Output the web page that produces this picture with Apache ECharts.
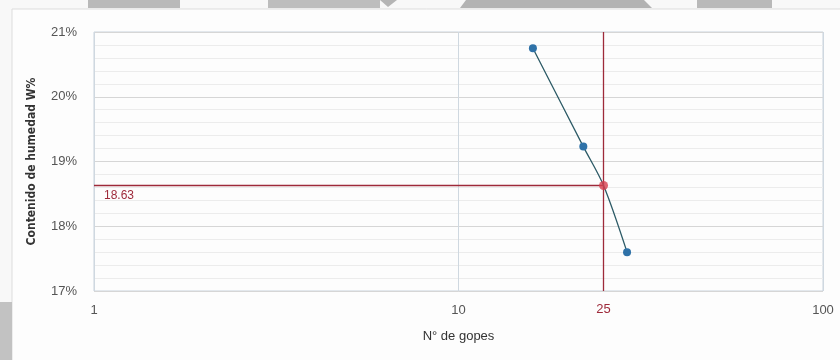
<!DOCTYPE html>
<html>
<head>
<meta charset="utf-8">
<title>Contenido de humedad vs N° de golpes</title>
<script src="https://cdn.jsdelivr.net/npm/echarts@6/dist/echarts.min.js"></script>
<style>
  html, body { margin: 0; padding: 0; background: #f8f8f8; }
  #chart { width: 840px; height: 360px; }
</style>
</head>
<body>
<div id="chart"></div>
<script>
// Ensayo de límite líquido: humedad frente a número de golpes
const golpes = [16, 22, 29];
const humedad = [20.75, 19.23, 17.60];
const golpesRef = 25;
const humedadRef = 18.63;
const xTicks = [1, 10, 100];
const yTicks = [17, 18, 19, 20, 21];

const textFont = "'Liberation Sans', Arial, sans-serif";
const narrowFont = "'Liberation Sans Narrow', 'DejaVu Sans Condensed', 'Liberation Sans', sans-serif";
const refRed = '#9e2a3a';

// curva de fluidez: puntos del ensayo más el punto de 25 golpes (sin marcador), ordenados
const curva = golpes.map((g, i) => ({ value: [g, humedad[i]] }))
  .concat([{ value: [golpesRef, humedadRef], symbol: 'none' }])
  .sort((a, b) => a.value[0] - b.value[0]);

const chart = echarts.init(document.getElementById('chart'));

chart.setOption({
  backgroundColor: '#f8f8f8',
  animation: false,
  graphic: [
    // recuadro del gráfico
    { type: 'rect', shape: { x: 12, y: 9, width: 840, height: 360 },
      style: { fill: '#fdfdfd', stroke: '#dddddd', lineWidth: 1 }, z: -10 },
    // fondo de la página escaneada
    { type: 'rect', shape: { x: 88, y: 0, width: 92, height: 8 }, style: { fill: '#b9b9b9' }, z: -9 },
    { type: 'rect', shape: { x: 268, y: 0, width: 112, height: 8 }, style: { fill: '#bdbdbd' }, z: -9 },
    { type: 'polygon', shape: { points: [[380, 0], [397, 0], [388, 7]] }, style: { fill: '#b5b5b5' }, z: -9 },
    { type: 'polygon', shape: { points: [[466, 0], [644, 0], [652, 8], [460, 8]] }, style: { fill: '#b3b3b3' }, z: -9 },
    { type: 'rect', shape: { x: 697, y: 0, width: 75, height: 8 }, style: { fill: '#b9b9b9' }, z: -9 },
    { type: 'rect', shape: { x: 0, y: 302, width: 12, height: 58 }, style: { fill: '#c2c2c2' }, z: -9 }
  ],
  grid: {
    left: 94, right: 17, top: 32, bottom: 69,
    show: true, borderColor: '#c8d2dc', borderWidth: 1, backgroundColor: 'transparent'
  },
  xAxis: {
    type: 'log',
    logBase: 10,
    min: xTicks[0],
    max: xTicks[xTicks.length - 1],
    name: 'N° de gopes',
    nameLocation: 'middle',
    nameGap: 39,
    nameTextStyle: { fontFamily: textFont, fontSize: 13, color: '#333333' },
    axisLine: { show: false },
    axisTick: { show: false },
    axisLabel: { fontFamily: textFont, fontSize: 13, color: '#555555', margin: 13 },
    splitLine: { show: true, lineStyle: { color: '#cfd8e0', width: 1 } }
  },
  yAxis: {
    type: 'value',
    min: yTicks[0],
    max: yTicks[yTicks.length - 1],
    interval: 1,
    name: 'Contenido de humedad W%',
    nameLocation: 'middle',
    nameRotate: 90,
    nameGap: 56,
    nameTextStyle: { fontFamily: narrowFont, fontSize: 12, fontWeight: 'bold', color: '#333333' },
    axisLine: { show: false },
    axisTick: { show: false },
    axisLabel: { fontFamily: textFont, fontSize: 13, color: '#555555', margin: 17, formatter: '{value}%' },
    splitLine: { show: true, lineStyle: { color: '#d6d6d6', width: 1 } },
    minorTick: { show: false, splitNumber: 5 },
    minorSplitLine: { show: true, lineStyle: { color: '#ececec', width: 1 } }
  },
  series: [
    {
      name: 'Humedad',
      type: 'line',
      data: curva,
      smooth: 0.3,
      symbol: 'circle',
      symbolSize: 8,
      itemStyle: { color: '#2f72a8' },
      lineStyle: { color: '#2c5a66', width: 1.3 },
      z: 3
    },
    {
      name: 'Límite líquido',
      type: 'scatter',
      data: [[golpesRef, humedadRef]],
      symbol: 'circle',
      symbolSize: 9,
      itemStyle: { color: '#d6404f' },
      z: 5,
      clip: false,
      markLine: {
        silent: true,
        symbol: ['none', 'none'],
        animation: false,
        z: 2,
        lineStyle: { color: refRed, width: 1.3, type: 'solid' },
        data: [
          [
            { coord: [golpesRef, yTicks[yTicks.length - 1]] },
            { coord: [golpesRef, yTicks[0]],
              label: { show: true, position: 'end', distance: 12, formatter: String(golpesRef),
                       fontFamily: textFont, fontSize: 13, color: refRed } }
          ],
          [
            { coord: [xTicks[0], humedadRef] },
            { coord: [golpesRef, humedadRef],
              label: { show: true, position: 'insideStartBottom', distance: [10, 4],
                       formatter: humedadRef.toFixed(2),
                       fontFamily: textFont, fontSize: 12, color: refRed } }
          ]
        ]
      }
    }
  ]
});
</script>
</body>
</html>
